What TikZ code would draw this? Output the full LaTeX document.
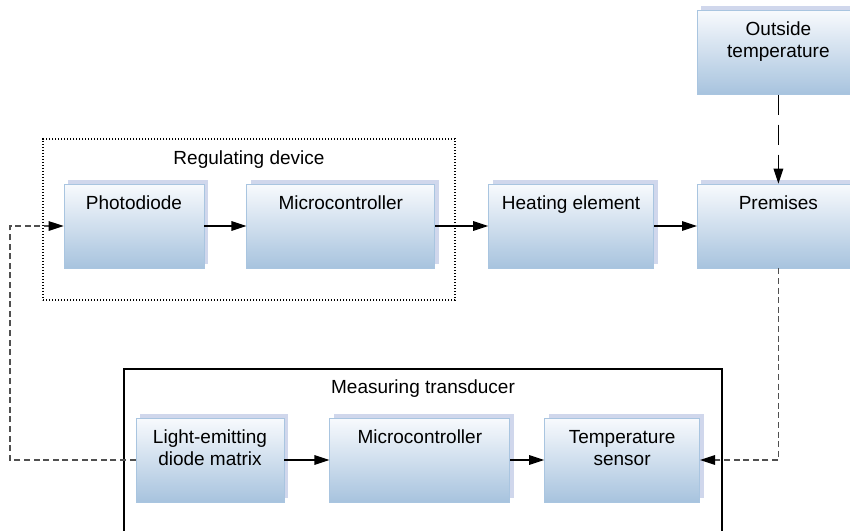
\documentclass[tikz,border=0pt]{standalone}
\usepackage{fontspec}
\setmainfont{Liberation Sans}
\usepackage{tikz}
\usetikzlibrary{arrows.meta}
\usetikzlibrary{positioning}
\usetikzlibrary{shadows}

\definecolor{blocktop}{HTML}{F8FAFD}
\definecolor{blockbot}{HTML}{A7C3DE}
\definecolor{blockline}{HTML}{A9C5E0}
\definecolor{blockshade}{HTML}{D0D7EC}
\definecolor{fbgray}{HTML}{505050}

\begin{document}
\begin{tikzpicture}[x=0.5pt,y=-0.5pt,->,>={Triangle[length=7.5pt,width=4.8pt,black]},
                    font=\fontsize{9.5}{11}\selectfont,
                    block/.style={draw=blockline,top color=blocktop,bottom color=blockbot,
                      copy shadow={shadow xshift=2pt,shadow yshift=2pt,fill=blockshade,draw=none},
                      minimum height=42pt,inner sep=0pt,text height=12.5pt,text depth=29.5pt,align=center},
                    two lines/.style={text height=23.5pt,text depth=18.5pt},
                    fb/.style={draw=fbgray,line width=0.6pt,dash pattern=on 3pt off 1.8pt},
                    group/.style={draw=black,minimum width=#1,inner sep=0pt}]
                \useasboundingbox (0,0) rectangle (850,530);
                % groups
                \node[group=206pt,line width=0.6pt,dash pattern=on 0.6pt off 0.9pt,minimum height=80.5pt] (reg) at (249,219.5) {};
                \node[group=299pt,line width=0.6pt,minimum height=85.5pt] (meas) at (423,454.5) {};
                \node[anchor=base] (reglbl) at ([yshift=-13pt]reg.north) {Regulating device};
                \node[anchor=base] (measlbl) at ([yshift=-12.5pt]meas.north) {Measuring transducer};
                % upper chain
                \node[block,minimum width=70pt] (photo) at (134,226) {Photodiode};
                \node[block,minimum width=94pt] (mcu1) [right=21pt of photo] {Microcontroller};
                \node[block,minimum width=82.5pt] (heat) [right=26.5pt of mcu1] {Heating element};
                \node[block,minimum width=81pt] (prem) [right=21.5pt of heat] {Premises};
                \node[block,two lines,minimum width=81pt] (outside) [above=44.5pt of prem] {Outside\\temperature};
                % lower chain
                \node[block,two lines,minimum width=74pt] (led) at (210,460) {Light-emitting\\diode matrix};
                \node[block,minimum width=90pt] (mcu2) [right=22.5pt of led] {Microcontroller};
                \node[block,two lines,minimum width=77.5pt] (sensor) [right=17pt of mcu2] {Temperature\\sensor};
                \coordinate (turn) at (10,226);

                \path[draw=black,line width=0.6pt]
                    (photo) edge (mcu1)
                    (mcu1) edge (heat)
                    (heat) edge (prem)
                    (led) edge (mcu2)
                    (mcu2) edge (sensor);
                \draw[black,line width=0.6pt,dash pattern=on 10pt off 5pt] (outside) -- (prem);
                \draw[fb] (prem.south) |- (sensor.east);
                \draw[fb] (led.west) -| (turn) -- (photo.west);
\end{tikzpicture}
\end{document}
